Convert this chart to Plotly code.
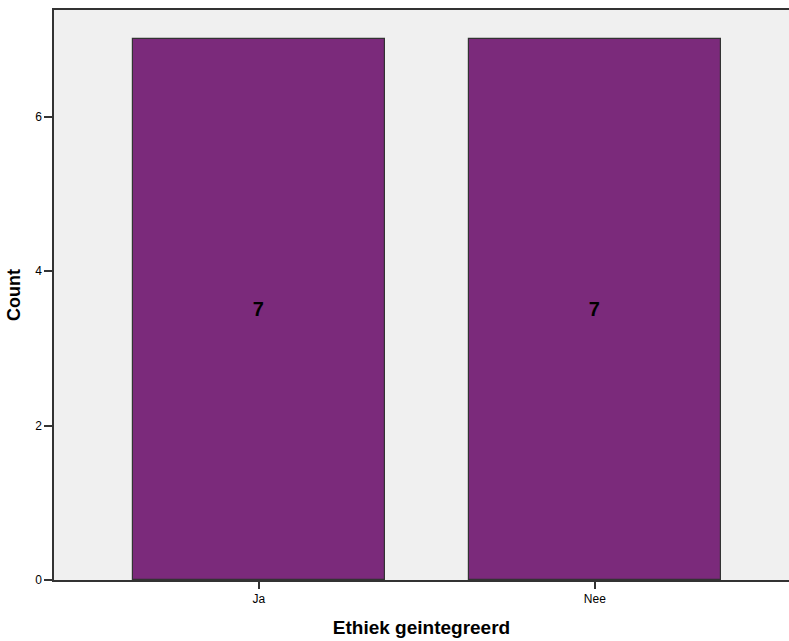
import plotly.graph_objects as go

categories = ["Ja", "Nee"]
counts = [7, 7]
y_ticks = [0, 2, 4, 6]

fig = go.Figure()
fig.add_trace(go.Bar(
    x=[0, 1], y=counts, width=0.75,
    marker=dict(color="#7B2A7B", line=dict(color="#333333", width=1.2)),
    text=[str(c) for c in counts], textposition="inside", insidetextanchor="middle",
    textfont=dict(family="Liberation Sans, Arial", size=20, color="#000000"),
    hoverinfo="skip",
))
fig.update_traces(texttemplate="<b>%{y}</b>")
fig.update_layout(
    width=789, height=641,
    margin=dict(l=54, r=0, t=10, b=61),
    paper_bgcolor="white", plot_bgcolor="#F0F0F0",
    font=dict(family="Liberation Sans, Arial", size=12, color="#000000"),
    showlegend=False,
    bargap=0,
)
fig.update_xaxes(
    range=[-0.61, 1.578], tickvals=[0, 1], ticktext=categories,
    showgrid=False, zeroline=False, showline=True, linecolor="#333333", linewidth=1.5,
    mirror=True, ticks="outside", ticklen=7, tickcolor="#333333", tickwidth=1.5,
    title=dict(text="<b>Ethiek geintegreerd</b>", font=dict(size=19), standoff=16),
)
fig.update_yaxes(
    range=[0, 7.38], tickvals=y_ticks,
    showgrid=False, zeroline=False, showline=True, linecolor="#333333", linewidth=1.5,
    ticks="outside", ticklen=8, tickcolor="#333333", tickwidth=1.5,
    title=dict(text="<b>Count</b>", font=dict(size=18), standoff=10),
)
fig.write_html(
    "out.html",
    config={"displayModeBar": False},
    post_script="document.body.style.margin='0';document.body.style.overflow='hidden';",
)
